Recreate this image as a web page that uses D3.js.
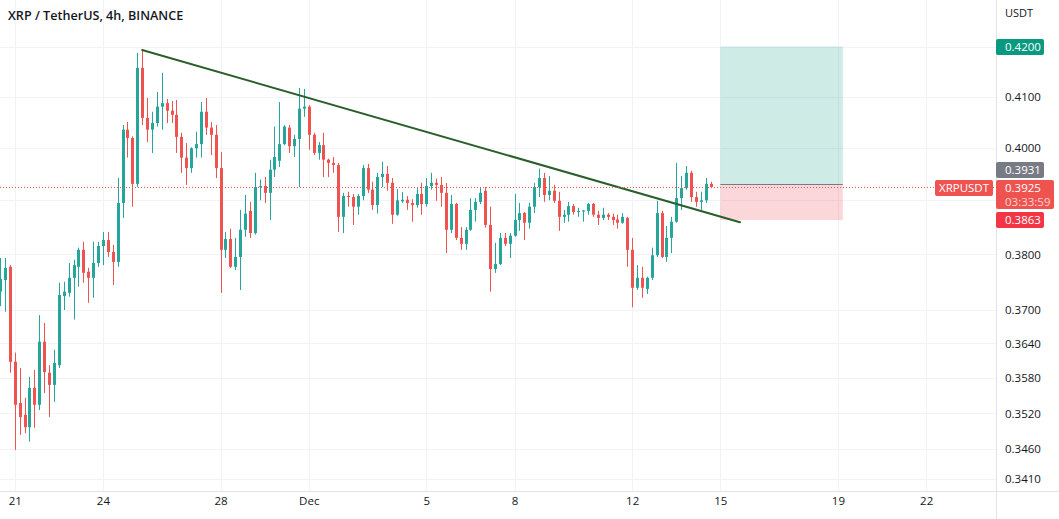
<!DOCTYPE html>
<html><head><meta charset="utf-8">
<script src="https://cdn.jsdelivr.net/npm/d3@7"></script>
<style>
html,body{margin:0;padding:0;background:#fff;}
svg{display:block;font-family:"Open Sans","Noto Sans",sans-serif;}
</style></head><body>
<svg id="chart" width="1059" height="519"></svg>
<script>
// ---------- DATA ----------
const symbolTitle = "XRP / TetherUS, 4h, BINANCE";
const symbolCode = "XRPUSDT";
const currency = "USDT";
const firstCandle = "2022-11-20T12:00:00Z";
const candleHours = 4;

const openPrices = [
0.3732,0.3753,0.3777,0.3608,0.3537,0.3517,0.3496,0.3563,0.3534,0.3643,0.3589,0.3568,0.3602,0.3724,0.3730,0.3757,0.3777,0.3808,0.3768,0.3757,0.3784,0.3815,0.3826,0.3804,0.3786,0.3895,
0.4035,0.4019,0.3931,0.4157,0.4058,0.4035,0.4048,0.4080,0.4087,0.4072,0.4064,0.4021,0.3981,0.3961,0.3999,0.4007,0.4070,0.4039,0.4025,0.3961,0.3808,0.3828,0.3777,0.3795,0.3845,
0.3880,0.3839,0.3925,0.3927,0.3914,0.3958,0.3975,0.4007,0.4039,0.4003,0.4017,0.4076,0.4080,0.4025,0.3990,0.4005,0.3977,0.3971,0.3967,0.3869,0.3908,0.3906,0.3888,
0.3908,0.3961,0.3920,0.3891,0.3944,0.3950,0.3933,0.3873,0.3898,0.3901,0.3895,0.3891,0.3912,0.3893,0.3927,0.3933,0.3929,0.3914,0.3845,0.3893,0.3830,0.3819,0.3845,0.3882,0.3897,
0.3918,0.3854,0.3773,0.3782,0.3830,0.3819,0.3834,0.3863,0.3876,0.3858,0.3888,0.3925,0.3942,0.3910,0.3918,0.3899,0.3869,0.3873,0.3889,0.3878,0.3879,0.3880,0.3893,0.3873,
0.3867,0.3873,0.3869,0.3864,0.3858,0.3867,0.3808,0.3739,0.3757,0.3737,0.3757,0.3798,0.3876,0.3795,0.3830,0.3860,0.3904,0.3923,0.3952,0.3906,0.3897,0.3900,0.3931];

const highPrices = [
0.3793,0.3793,0.3780,0.3624,0.3597,0.3546,0.3582,0.3594,0.3690,0.3676,0.3602,0.3629,0.3748,0.3750,0.3784,0.3790,0.3812,0.3823,0.3775,0.3823,0.3823,0.3841,0.3841,0.3817,0.3942,0.4044,
0.4050,0.4022,0.4187,0.4194,0.4097,0.4070,0.4109,0.4147,0.4095,0.4091,0.4093,0.4029,0.4009,0.4001,0.4031,0.4089,0.4097,0.4050,0.4044,0.3992,0.3841,0.3847,0.3830,0.3882,0.3910,
0.3897,0.3952,0.3939,0.3944,0.3977,0.4041,0.4089,0.4044,0.4044,0.4025,0.4117,0.4115,0.4083,0.4029,0.4011,0.4029,0.3979,0.3982,0.3971,0.3914,0.3916,0.3912,0.3912,
0.3967,0.3969,0.3935,0.3952,0.3973,0.3965,0.3942,0.3921,0.3916,0.3908,0.3902,0.3923,0.3933,0.3942,0.3952,0.3941,0.3944,0.3933,0.3910,0.3895,0.3850,0.3850,0.3904,0.3904,0.3925,
0.3925,0.3888,0.3821,0.3839,0.3839,0.3839,0.3912,0.3895,0.3878,0.3895,0.3933,0.3960,0.3952,0.3946,0.3929,0.3916,0.3882,0.3897,0.3893,0.3886,0.3882,0.3895,0.3895,0.3880,
0.3886,0.3876,0.3875,0.3873,0.3876,0.3869,0.3830,0.3780,0.3777,0.3759,0.3812,0.3899,0.3880,0.3852,0.3869,0.3971,0.3946,0.3965,0.3956,0.3916,0.3916,0.3942,0.3935];

const lowPrices = [
0.3706,0.3696,0.3589,0.3458,0.3483,0.3486,0.3472,0.3495,0.3525,0.3554,0.3513,0.3539,0.3597,0.3699,0.3723,0.3682,0.3741,0.3748,0.3712,0.3721,0.3777,0.3780,0.3795,0.3744,0.3777,0.3867,
0.3981,0.3888,0.3925,0.4044,0.4011,0.3990,0.4041,0.4035,0.4048,0.4048,0.3990,0.3952,0.3929,0.3952,0.3981,0.3981,0.4025,0.3986,0.3942,0.3730,0.3793,0.3775,0.3771,0.3735,0.3832,
0.3830,0.3836,0.3900,0.3895,0.3863,0.3944,0.3963,0.4005,0.3990,0.3982,0.3925,0.4060,0.3996,0.3986,0.3977,0.3944,0.3944,0.3952,0.3841,0.3839,0.3888,0.3854,0.3873,
0.3900,0.3914,0.3882,0.3875,0.3925,0.3918,0.3856,0.3871,0.3895,0.3882,0.3860,0.3886,0.3873,0.3888,0.3920,0.3899,0.3888,0.3802,0.3839,0.3826,0.3808,0.3808,0.3843,0.3860,0.3893,
0.3849,0.3732,0.3766,0.3780,0.3815,0.3793,0.3832,0.3843,0.3826,0.3847,0.3876,0.3906,0.3897,0.3900,0.3895,0.3843,0.3858,0.3860,0.3873,0.3869,0.3860,0.3873,0.3869,0.3854,
0.3863,0.3863,0.3854,0.3847,0.3856,0.3777,0.3704,0.3735,0.3721,0.3728,0.3753,0.3795,0.3793,0.3786,0.3802,0.3858,0.3882,0.3920,0.3897,0.3888,0.3882,0.3895,0.3923];

const closePrices = [
0.3755,0.3775,0.3608,0.3534,0.3513,0.3496,0.3563,0.3534,0.3643,0.3590,0.3568,0.3606,0.3726,0.3732,0.3757,0.3780,0.3808,0.3766,0.3757,0.3784,0.3815,0.3826,0.3804,0.3786,0.3895,0.4035,
0.4019,0.3931,0.4157,0.4058,0.4035,0.4048,0.4080,0.4087,0.4072,0.4064,0.4021,0.3981,0.3961,0.3999,0.4007,0.4070,0.4039,0.4025,0.3961,0.3808,0.3828,0.3777,0.3795,0.3845,0.3875,
0.3839,0.3925,0.3927,0.3914,0.3958,0.3982,0.4007,0.4041,0.4003,0.4017,0.4076,0.4080,0.4025,0.3990,0.4005,0.3977,0.3971,0.3967,0.3869,0.3908,0.3906,0.3888,0.3908,
0.3961,0.3920,0.3891,0.3944,0.3950,0.3933,0.3873,0.3900,0.3901,0.3895,0.3891,0.3912,0.3893,0.3927,0.3933,0.3929,0.3914,0.3845,0.3893,0.3830,0.3819,0.3845,0.3882,0.3897,0.3914,
0.3854,0.3773,0.3782,0.3830,0.3819,0.3834,0.3863,0.3876,0.3858,0.3888,0.3925,0.3942,0.3910,0.3918,0.3899,0.3869,0.3873,0.3889,0.3878,0.3880,0.3881,0.3893,0.3873,0.3867,
0.3873,0.3869,0.3863,0.3858,0.3869,0.3808,0.3739,0.3757,0.3739,0.3757,0.3798,0.3876,0.3795,0.3830,0.3860,0.3904,0.3923,0.3952,0.3906,0.3897,0.3900,0.3931,0.3925];

const priceTicks = [0.4200,0.4100,0.4000,0.3900,0.3800,0.3700,0.3640,0.3580,0.3520,0.3460,0.3410];
const timeTicks = ["2022-11-21","2022-11-24","2022-11-28","2022-12-01","2022-12-05","2022-12-08","2022-12-12","2022-12-15","2022-12-19","2022-12-22"];
const timeTickLabels = ["21","24","28","Dec","5","8","12","15","19","22"];

const trendTimes = ["2022-11-25T08:00:00Z","2022-12-15T16:00:00Z"];
const trendPrices = [0.4193, 0.3859];

const positionTimes = ["2022-12-15T00:00:00Z","2022-12-19T04:00:00Z"];
const entryPrice = 0.3931, targetPrice = 0.4200, stopPrice = 0.3863;
const lastPrice = 0.3925;
const countdown = "03:33:59";

// ---------- CHECK ----------
const n = openPrices.length;
if ([highPrices,lowPrices,closePrices].some(a => a.length !== n)) throw new Error("length mismatch");

// ---------- LAYOUT ----------
const W = 1059, H = 519;
const plotRight = 996, plotBottom = 491;
const DAY = 864e5;
const anchor = Date.UTC(2022,10,21);
const pxPerDay = 29.4, anchorX = 14.75;

const x = d3.scaleUtc()
  .domain([new Date(anchor - anchorX/pxPerDay*DAY), new Date(anchor + (plotRight-anchorX)/pxPerDay*DAY)])
  .range([0, plotRight]);
const y = d3.scaleLog().domain([0.341, 0.42]).range([478.9, 46.5]);

const t0 = new Date(firstCandle).getTime();
const candles = d3.range(n).map(i => ({
  t: new Date(t0 + i*candleHours*3600e3),
  o: openPrices[i], h: highPrices[i], l: lowPrices[i], c: closePrices[i]
}));

const UP = "#26a69a", DOWN = "#ef5350";
const svg = d3.select("#chart");
svg.append("rect").attr("width",W).attr("height",H).attr("fill","#fff");

svg.append("defs").append("clipPath").attr("id","plot")
  .append("rect").attr("x",0).attr("y",0).attr("width",plotRight).attr("height",plotBottom);

// grid
const grid = svg.append("g").attr("clip-path","url(#plot)");
grid.selectAll("line.h").data(priceTicks).join("line")
  .attr("x1",0).attr("x2",plotRight)
  .attr("y1",d=>Math.round(y(d))+0.5).attr("y2",d=>Math.round(y(d))+0.5)
  .attr("stroke","#f0f3fa").attr("stroke-width",1);
grid.selectAll("line.v").data(timeTicks).join("line")
  .attr("y1",0).attr("y2",plotBottom)
  .attr("x1",d=>Math.round(x(new Date(d+"T00:00:00Z")))+0.5).attr("x2",d=>Math.round(x(new Date(d+"T00:00:00Z")))+0.5)
  .attr("stroke","#f0f3fa").attr("stroke-width",1);

const plot = svg.append("g").attr("clip-path","url(#plot)");

// position tool
const px0 = x(new Date(positionTimes[0])), px1 = x(new Date(positionTimes[1]));
plot.append("rect").attr("x",px0).attr("width",px1-px0)
  .attr("y",y(targetPrice)).attr("height",y(entryPrice)-y(targetPrice))
  .attr("fill","rgba(8,153,129,0.2)");
plot.append("rect").attr("x",px0).attr("width",px1-px0)
  .attr("y",y(entryPrice)).attr("height",y(stopPrice)-y(entryPrice))
  .attr("fill","rgba(242,54,69,0.2)");
plot.append("line").attr("x1",px0).attr("x2",px1)
  .attr("y1",Math.round(y(entryPrice))+0.5).attr("y2",Math.round(y(entryPrice))+0.5)
  .attr("stroke","#787b86").attr("stroke-width",1);

// candles
const cg = plot.append("g");
candles.forEach(d => {
  const cx = Math.round(x(d.t));
  const col = d.c >= d.o ? UP : DOWN;
  cg.append("line").attr("x1",cx+0.5).attr("x2",cx+0.5)
    .attr("y1",y(d.h)).attr("y2",y(d.l)).attr("stroke",col).attr("stroke-width",1);
  const top = y(Math.max(d.o,d.c)), bot = y(Math.min(d.o,d.c));
  cg.append("rect").attr("x",cx-1).attr("width",3)
    .attr("y",top).attr("height",Math.max(1,bot-top)).attr("fill",col);
});

// trend line
plot.append("line")
  .attr("x1",x(new Date(trendTimes[0]))).attr("y1",y(trendPrices[0]))
  .attr("x2",x(new Date(trendTimes[1]))).attr("y2",y(trendPrices[1]))
  .attr("stroke","#2a5f2c").attr("stroke-width",2).attr("stroke-linecap","round");

// last price dotted line
plot.append("line").attr("x1",0).attr("x2",plotRight)
  .attr("y1",Math.round(y(lastPrice))+0.5).attr("y2",Math.round(y(lastPrice))+0.5)
  .attr("stroke",DOWN).attr("stroke-width",1).attr("stroke-dasharray","1,2");

// axes borders
svg.append("line").attr("x1",plotRight+0.5).attr("x2",plotRight+0.5).attr("y1",0).attr("y2",H)
  .attr("stroke","#e0e3eb");
svg.append("line").attr("x1",0).attr("x2",W).attr("y1",plotBottom+0.5).attr("y2",plotBottom+0.5)
  .attr("stroke","#e0e3eb");

// badge layout (stacked to avoid overlaps, like the reference)
const lastTop = Math.round(y(lastPrice)) - 7;
const lastH = 29;
const entryC = Math.min(Math.round(y(entryPrice)), lastTop - 2 - 8);
const stopC = Math.max(Math.round(y(stopPrice)), lastTop + lastH + 2 + 8);
const targetC = Math.round(y(targetPrice));
const occupied = [[targetC-8,targetC+8],[entryC-8,entryC+8],[lastTop,lastTop+lastH],[stopC-8,stopC+8]];

// price axis labels
const yAxis = d3.axisRight(y)
  .tickValues(priceTicks.filter(p => occupied.every(([a,b]) => y(p) < a-6 || y(p) > b+6)))
  .tickFormat(d3.format(".4f")).tickSize(0).tickPadding(0);
const ya = svg.append("g").attr("transform",`translate(${plotRight+9},0)`).call(yAxis);
ya.select(".domain").remove();
ya.selectAll("text").attr("fill","#131722").attr("font-size","11.5px")
  .attr("font-family",'"Open Sans",sans-serif').attr("dy","0.35em");

// time axis labels
const xAxis = d3.axisBottom(x).tickValues(timeTicks.map(d => new Date(d+"T00:00:00Z")))
  .tickFormat((d,i) => timeTickLabels[i]).tickSize(0).tickPadding(0);
const xa = svg.append("g").attr("transform",`translate(0,${plotBottom+10})`).call(xAxis);
xa.select(".domain").remove();
xa.selectAll("text").attr("fill","#131722").attr("font-size","11.5px")
  .attr("font-family",'"Open Sans",sans-serif').attr("dy","0.35em");

// currency label
svg.append("text").attr("x",plotRight+9).attr("y",13).attr("dy","0.35em")
  .attr("font-size","11px").attr("fill","#131722").text(currency);

// title
svg.append("text").attr("x",8).attr("y",16).attr("dy","0.35em")
  .attr("font-size","12.6px").attr("font-weight",600).attr("fill","#131722").text(symbolTitle);

// badges
const fmt = d3.format(".4f");
function badge(top, h, w, color, lines, colors) {
  const g = svg.append("g");
  g.append("rect").attr("x",plotRight).attr("y",top).attr("width",w).attr("height",h)
    .attr("rx",2).attr("fill",color);
  lines.forEach((t,i) => g.append("text").attr("x",plotRight+9).attr("y",top+8+i*14)
    .attr("dy","0.35em").attr("font-size","11.5px").attr("fill",colors[i]).text(t));
}
badge(targetC-8, 16, 48, "#089981", [fmt(targetPrice)], ["#fff"]);
badge(entryC-8, 16, 48, "#787b86", [fmt(entryPrice)], ["#fff"]);
badge(lastTop, lastH, 58, "#ef5350", [fmt(lastPrice), countdown], ["#fff","rgba(255,255,255,0.75)"]);
badge(stopC-8, 16, 48, "#f23645", [fmt(stopPrice)], ["#fff"]);

// symbol label on last price line
svg.append("rect").attr("x",935).attr("y",lastTop).attr("width",58).attr("height",16).attr("rx",2).attr("fill","#ef5350");
svg.append("text").attr("x",964).attr("y",lastTop+8).attr("dy","0.35em").attr("text-anchor","middle")
  .attr("font-size","11.5px").attr("fill","#fff").text(symbolCode);
</script>
</body></html>
